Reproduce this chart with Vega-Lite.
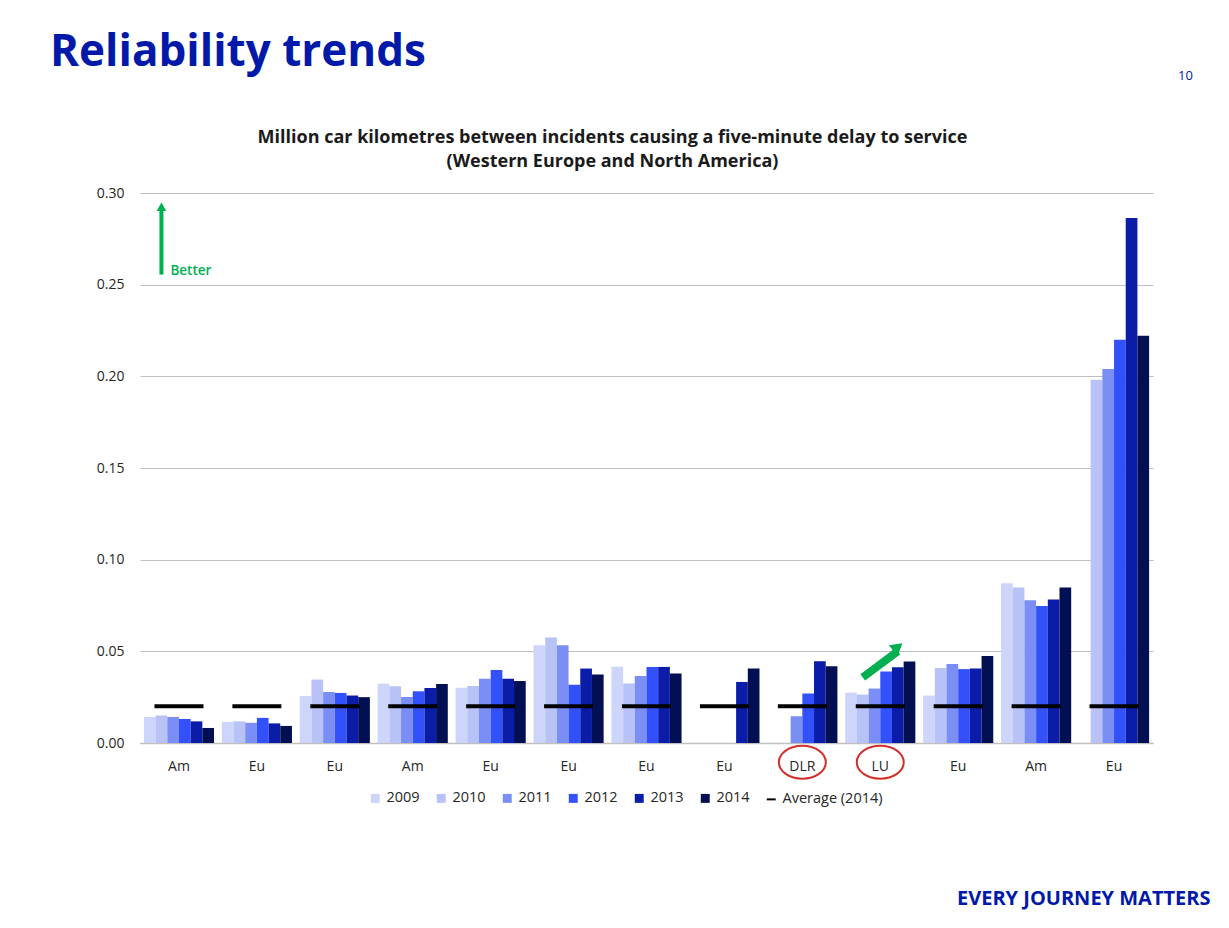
{
  "$schema": "https://vega.github.io/schema/vega-lite/v6.json",
  "width": 1013,
  "height": 550,
  "autosize": {"type": "none"},
  "padding": {"left": 140, "top": 193, "right": 76, "bottom": 185},
  "background": "white",
  "title": {"text": "Reliability trends", "anchor": "start", "frame": "group", "dx": -90, "dy": 50, "offset": 0, "baseline": "bottom", "fontSize": 44, "font": "Open Sans", "fontWeight": "bold", "color": "#0019a8"},
  "config": {"view": {"stroke": null}, "font": "Open Sans"},
  "datasets": {
    "bars": [
      {"op": "01|Am", "year": "2009", "value": 0.0142}, {"op": "01|Am", "year": "2010", "value": 0.0150}, {"op": "01|Am", "year": "2011", "value": 0.0142}, {"op": "01|Am", "year": "2012", "value": 0.0131}, {"op": "01|Am", "year": "2013", "value": 0.0118}, {"op": "01|Am", "year": "2014", "value": 0.0082},
      {"op": "02|Eu", "year": "2009", "value": 0.0115}, {"op": "02|Eu", "year": "2010", "value": 0.0118}, {"op": "02|Eu", "year": "2011", "value": 0.0110}, {"op": "02|Eu", "year": "2012", "value": 0.0137}, {"op": "02|Eu", "year": "2013", "value": 0.0107}, {"op": "02|Eu", "year": "2014", "value": 0.0093},
      {"op": "03|Eu", "year": "2009", "value": 0.0256}, {"op": "03|Eu", "year": "2010", "value": 0.0346}, {"op": "03|Eu", "year": "2011", "value": 0.0278}, {"op": "03|Eu", "year": "2012", "value": 0.0273}, {"op": "03|Eu", "year": "2013", "value": 0.0259}, {"op": "03|Eu", "year": "2014", "value": 0.0250},
      {"op": "04|Am", "year": "2009", "value": 0.0324}, {"op": "04|Am", "year": "2010", "value": 0.0309}, {"op": "04|Am", "year": "2011", "value": 0.0251}, {"op": "04|Am", "year": "2012", "value": 0.0282}, {"op": "04|Am", "year": "2013", "value": 0.0300}, {"op": "04|Am", "year": "2014", "value": 0.0322},
      {"op": "05|Eu", "year": "2009", "value": 0.0302}, {"op": "05|Eu", "year": "2010", "value": 0.0311}, {"op": "05|Eu", "year": "2011", "value": 0.0351}, {"op": "05|Eu", "year": "2012", "value": 0.0398}, {"op": "05|Eu", "year": "2013", "value": 0.0351}, {"op": "05|Eu", "year": "2014", "value": 0.0338},
      {"op": "06|Eu", "year": "2009", "value": 0.0533}, {"op": "06|Eu", "year": "2010", "value": 0.0575}, {"op": "06|Eu", "year": "2011", "value": 0.0533}, {"op": "06|Eu", "year": "2012", "value": 0.0318}, {"op": "06|Eu", "year": "2013", "value": 0.0406}, {"op": "06|Eu", "year": "2014", "value": 0.0373},
      {"op": "07|Eu", "year": "2009", "value": 0.0416}, {"op": "07|Eu", "year": "2010", "value": 0.0325}, {"op": "07|Eu", "year": "2011", "value": 0.0366}, {"op": "07|Eu", "year": "2012", "value": 0.0415}, {"op": "07|Eu", "year": "2013", "value": 0.0415}, {"op": "07|Eu", "year": "2014", "value": 0.0379},
      {"op": "08|Eu", "year": "2013", "value": 0.0333}, {"op": "08|Eu", "year": "2014", "value": 0.0406},
      {"op": "09|DLR", "year": "2011", "value": 0.0146}, {"op": "09|DLR", "year": "2012", "value": 0.0270}, {"op": "09|DLR", "year": "2013", "value": 0.0446}, {"op": "09|DLR", "year": "2014", "value": 0.0419},
      {"op": "10|LU", "year": "2009", "value": 0.0275}, {"op": "10|LU", "year": "2010", "value": 0.0264}, {"op": "10|LU", "year": "2011", "value": 0.0297}, {"op": "10|LU", "year": "2012", "value": 0.0390}, {"op": "10|LU", "year": "2013", "value": 0.0413}, {"op": "10|LU", "year": "2014", "value": 0.0444},
      {"op": "11|Eu", "year": "2009", "value": 0.0259}, {"op": "11|Eu", "year": "2010", "value": 0.0409}, {"op": "11|Eu", "year": "2011", "value": 0.0431}, {"op": "11|Eu", "year": "2012", "value": 0.0403}, {"op": "11|Eu", "year": "2013", "value": 0.0407}, {"op": "11|Eu", "year": "2014", "value": 0.0474},
      {"op": "12|Am", "year": "2009", "value": 0.0872}, {"op": "12|Am", "year": "2010", "value": 0.0848}, {"op": "12|Am", "year": "2011", "value": 0.0779}, {"op": "12|Am", "year": "2012", "value": 0.0747}, {"op": "12|Am", "year": "2013", "value": 0.0783}, {"op": "12|Am", "year": "2014", "value": 0.0848},
      {"op": "13|Eu", "year": "2010", "value": 0.1982}, {"op": "13|Eu", "year": "2011", "value": 0.2040}, {"op": "13|Eu", "year": "2012", "value": 0.2200}, {"op": "13|Eu", "year": "2013", "value": 0.2864}, {"op": "13|Eu", "year": "2014", "value": 0.2221}
    ],
    "avg": [
      {"op": "01|Am", "avg": 0.02}, {"op": "02|Eu", "avg": 0.02}, {"op": "03|Eu", "avg": 0.02}, {"op": "04|Am", "avg": 0.02}, {"op": "05|Eu", "avg": 0.02}, {"op": "06|Eu", "avg": 0.02}, {"op": "07|Eu", "avg": 0.02},
      {"op": "08|Eu", "avg": 0.02}, {"op": "09|DLR", "avg": 0.02}, {"op": "10|LU", "avg": 0.02}, {"op": "11|Eu", "avg": 0.02}, {"op": "12|Am", "avg": 0.02}, {"op": "13|Eu", "avg": 0.02}
    ],
    "luArrow": [
      {"op": "10|LU", "year": "2010", "v": 0.0358},
      {"op": "10|LU", "year": "2013", "v": 0.0500}
    ],
    "highlight": [
      {"op": "09|DLR"}, {"op": "10|LU"}
    ]
  },
  "data": {"name": "bars"},
  "layer": [
    {
      "mark": {"type": "bar"},
      "encoding": {
        "x": {
          "field": "op", "type": "nominal",
          "scale": {"paddingInner": 0.1, "paddingOuter": 0.05},
          "axis": {
            "labelExpr": "split(datum.label, '|')[1]", "labelAngle": 0, "labelFont": "Open Sans", "labelFontSize": 14, "labelColor": "#262626", "labelPadding": 16,
            "ticks": false, "domainColor": "#bfbfbf", "domainWidth": 1.5,
            "title": "EVERY JOURNEY MATTERS", "titleFont": "Open Sans", "titleFontSize": 20, "titleColor": "#0019a8", "titleFontWeight": "bold",
            "titleAnchor": "end", "titleAlign": "right", "titleBaseline": "middle", "titleX": 1070, "titleY": 155
          }
        },
        "xOffset": {"field": "year", "type": "nominal", "scale": {"domain": ["2009", "2010", "2011", "2012", "2013", "2014"], "paddingInner": 0, "paddingOuter": 0}},
        "y": {
          "field": "value", "type": "quantitative",
          "scale": {"domain": [0, 0.3], "nice": false},
          "axis": {
            "values": [0, 0.05, 0.1, 0.15, 0.2, 0.25, 0.3], "format": ".2f", "domain": false, "ticks": false,
            "labelPadding": 16, "labelFont": "Open Sans", "labelFontSize": 14, "labelColor": "#262626", "gridColor": "#c0c0c0", "gridWidth": 1.2,
            "title": ["Million car kilometres between incidents causing a five-minute delay to service", "(Western Europe and North America)"],
            "titleAngle": 0, "titleX": 472, "titleY": -65, "titleAlign": "center", "titleBaseline": "top",
            "titleFont": "Open Sans", "titleFontSize": 18, "titleFontWeight": "bold", "titleColor": "#1a1a1a", "titleLineHeight": 24
          }
        },
        "color": {
          "field": "year", "type": "nominal",
          "scale": {"domain": ["2009", "2010", "2011", "2012", "2013", "2014", "Average (2014)"], "range": ["#cdd5fa", "#b8c2f7", "#7b8ef6", "#3251fb", "#0a1ca8", "#020f52", "#000000"]},
          "legend": {
            "orient": "none", "legendX": 228, "legendY": 598, "direction": "horizontal", "title": null,
            "symbolType": "square", "symbolSize": 80, "labelFont": "Open Sans", "labelFontSize": 14.5, "labelColor": "#262626", "labelOffset": 4, "columnPadding": 12,
            "encode": {"symbols": {"update": {
              "shape": {"signal": "datum.value === 'Average (2014)' ? 'stroke' : 'square'"},
              "stroke": {"signal": "datum.value === 'Average (2014)' ? '#000000' : 'transparent'"},
              "strokeWidth": {"value": 2}
            }}}
          }
        }
      }
    },
    {
      "data": {"name": "avg"},
      "mark": {"type": "tick", "color": "#000000", "thickness": 4, "size": 49, "opacity": 1},
      "encoding": {
        "x": {"field": "op", "type": "nominal", "axis": null},
        "y": {"field": "avg", "type": "quantitative"}
      }
    },
    {
      "data": {"values": [{}]},
      "mark": {"type": "rule", "color": "#00b050", "strokeWidth": 4},
      "encoding": {
        "x": {"datum": "01|Am", "type": "nominal", "axis": null},
        "xOffset": {"datum": "2010"},
        "y": {"datum": 0.2555},
        "y2": {"datum": 0.2905}
      }
    },
    {
      "data": {"values": [{}]},
      "mark": {"type": "point", "shape": "triangle-up", "filled": true, "color": "#00b050", "opacity": 1, "size": 95},
      "encoding": {
        "x": {"datum": "01|Am", "type": "nominal", "axis": null},
        "xOffset": {"datum": "2010"},
        "y": {"datum": 0.2925}
      }
    },
    {
      "data": {"values": [{}]},
      "mark": {"type": "text", "text": "Better", "align": "left", "baseline": "middle", "dx": 9, "font": "Open Sans", "fontSize": 13.5, "fontWeight": 600, "color": "#00b050"},
      "encoding": {
        "x": {"datum": "01|Am", "type": "nominal", "axis": null},
        "xOffset": {"datum": "2010"},
        "y": {"datum": 0.2575}
      }
    },
    {
      "data": {"name": "luArrow"},
      "mark": {"type": "line", "color": "#00b050", "strokeWidth": 8},
      "encoding": {
        "x": {"field": "op", "type": "nominal", "axis": null},
        "xOffset": {"field": "year", "type": "nominal"},
        "y": {"field": "v", "type": "quantitative"}
      }
    },
    {
      "data": {"values": [{}]},
      "mark": {"type": "point", "shape": "triangle-up", "filled": true, "color": "#00b050", "opacity": 1, "size": 190, "angle": 51},
      "encoding": {
        "x": {"datum": "10|LU", "type": "nominal", "axis": null},
        "xOffset": {"datum": "2013"},
        "y": {"datum": 0.0524}
      }
    },
    {
      "data": {"name": "highlight"},
      "mark": {"type": "point", "shape": "M-1,0A1,0.7,0,1,1,1,0A1,0.7,0,1,1,-1,0Z", "filled": false, "stroke": "#d0312d", "strokeWidth": 2, "opacity": 1, "size": 2209},
      "encoding": {
        "x": {
          "field": "op", "type": "nominal",
          "axis": {"orient": "top", "labels": false, "ticks": false, "domain": false, "grid": false,
            "title": "10", "titleX": 1045, "titleY": -118, "titleFont": "Open Sans", "titleFontSize": 13, "titleColor": "#0019a8", "titleFontWeight": "normal", "titleAlign": "center", "titleBaseline": "middle"}
        },
        "y": {"datum": -0.0105}
      }
    }
  ],
  "resolve": {"axis": {"x": "independent"}}
}
